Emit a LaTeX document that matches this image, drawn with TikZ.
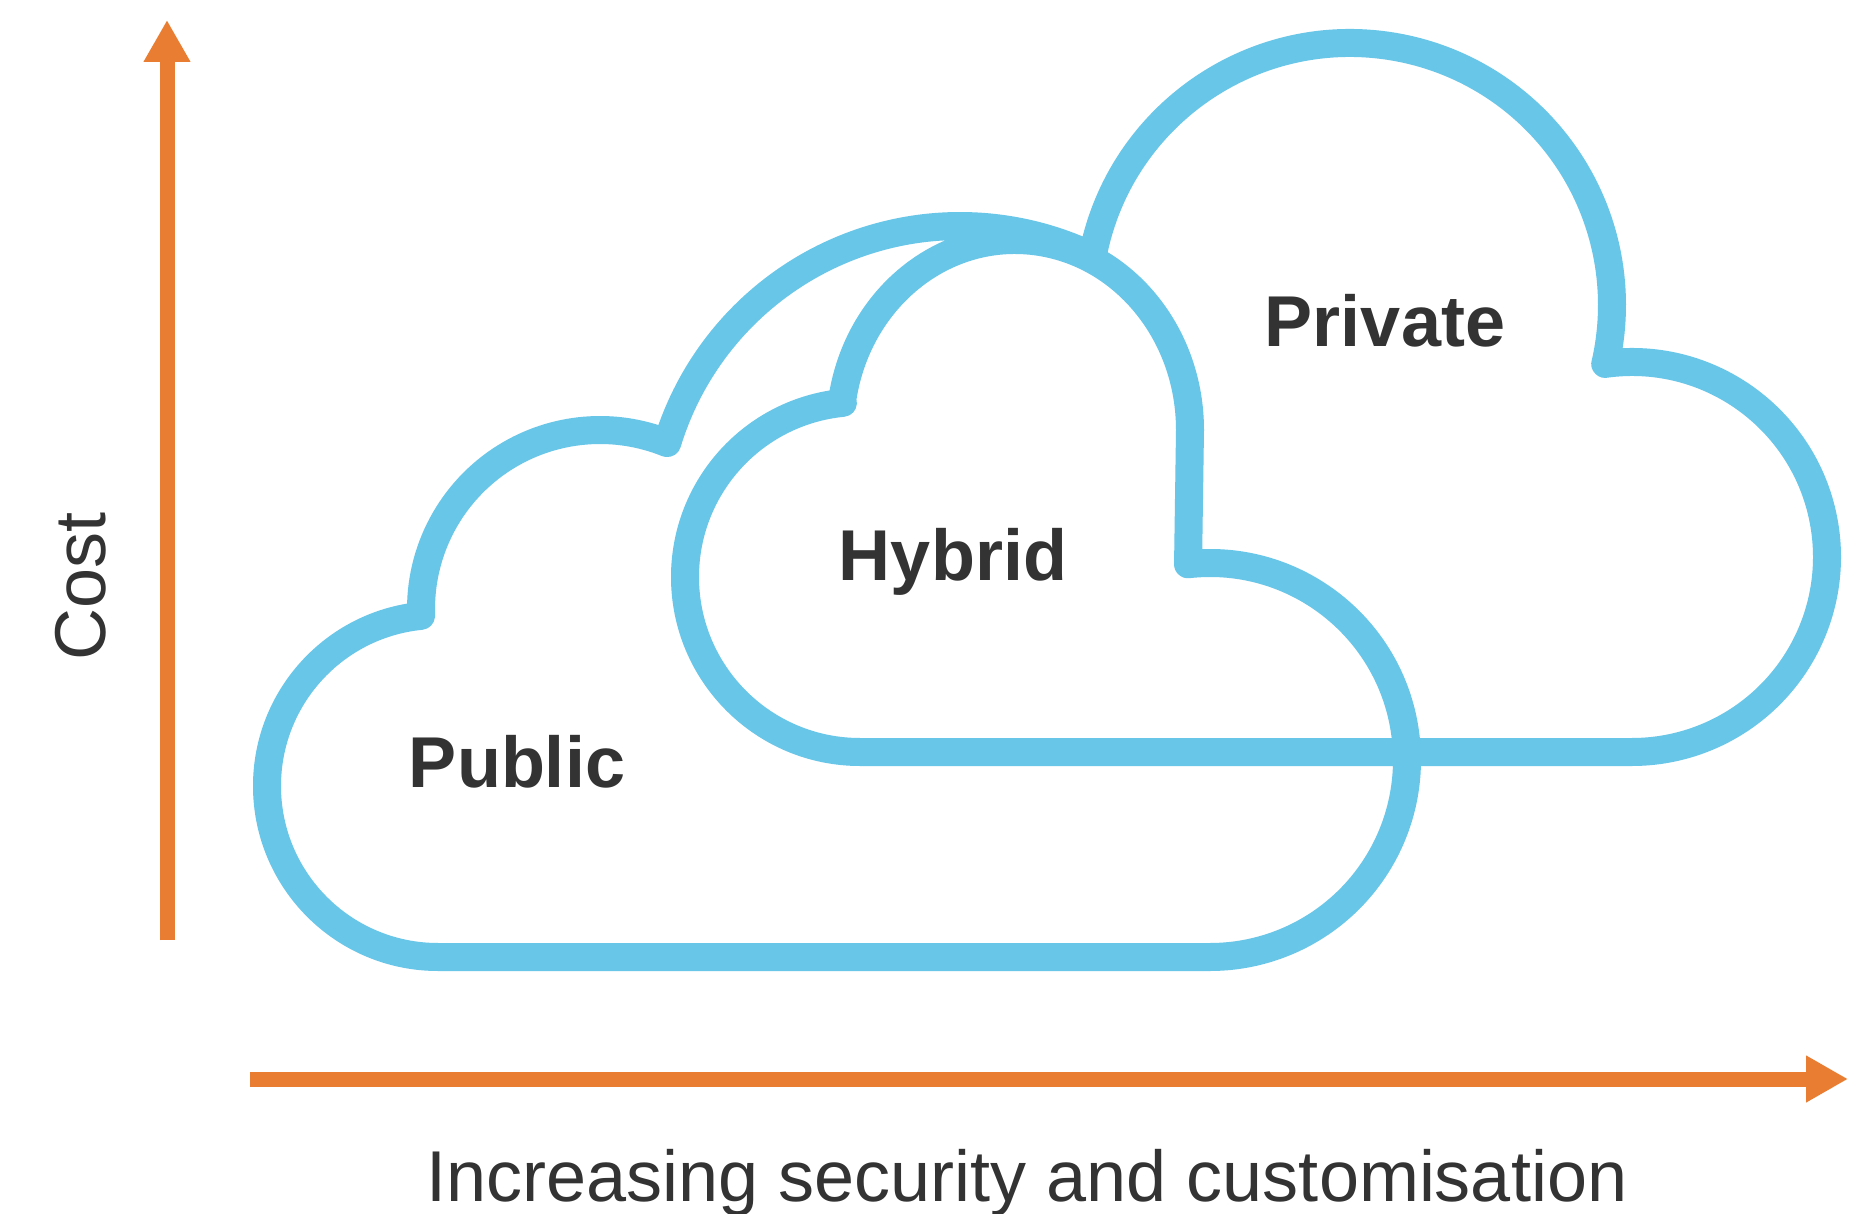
\documentclass[tikz,border=0pt]{standalone}
\usepackage{fontspec}
\setmainfont{Liberation Sans}
\usetikzlibrary{arrows.meta,calc}
\definecolor{cloudblue}{RGB}{104,198,232}
\definecolor{axisorange}{RGB}{233,125,50}
\definecolor{labelgray}{RGB}{51,51,51}
\begin{document}
\begin{tikzpicture}[x=0.5pt,y=0.5pt,
  cloudline/.style={draw=cloudblue,line width=14pt,line join=round},
  axisarrow/.style={draw=axisorange,line width=7.5pt,-{Triangle[length=21pt,width=22pt]}},
  cloudlabel/.style={font=\fontsize{36}{40}\selectfont\bfseries,text=labelgray,inner sep=0pt,anchor=base},
  axislabel/.style={font=\fontsize{36}{40}\selectfont,text=labelgray,inner sep=0pt,anchor=base}]
\useasboundingbox[fill=white] (0,0) rectangle (1865,-1214);

% lobe centres
\coordinate (cL1) at (438,-786);
\coordinate (cM1) at (600,-609);
\coordinate (cA)  at (960,-532);
\coordinate (cT3) at (1350,-305);
\coordinate (cR3) at (1632,-557);
\coordinate (cL2) at (860,-577);
\coordinate (cB)  at (1015,-430);
\coordinate (cR1) at (1210,-760);

% the three overlapping clouds (one continuous outline)
\draw[cloudline]
 ($(cL1)+(270:171)$) arc[start angle=270,end angle=95.7,radius=171]
 -- ($(cM1)+(181.9:179)$) arc[start angle=181.9,end angle=68,radius=179]
 -- ($(cA)+(163.1:306)$) arc[start angle=163.1,end angle=64.4,radius=306]
 -- ($(cT3)+(169.5:262)$) arc[start angle=169.5,end angle=-13.0,radius=262]
 -- ($(cR3)+(97.9:195)$) arc[start angle=97.9,end angle=-90,radius=195]
 -- ($(cL2)+(270:175)$) arc[start angle=270,end angle=95.6,radius=175]
 -- ($(cB)+(171.7:175 and 190)$) arc[start angle=171.7,end angle=0,x radius=175,y radius=190]
 -- ($(cR1)+(96.4:197)$) arc[start angle=96.4,end angle=-90,radius=197]
 -- cycle;

% labels in clouds
\node[cloudlabel] (public)  at (517,-787) {Public};
\node[cloudlabel] (hybrid)  at (953,-580) {Hybrid};
\node[cloudlabel] (private) at (1385,-347) {Private};

% axes
\coordinate (yfoot) at (167,-940);
\coordinate (ytip)  at (167,-20);
\coordinate (xfoot) at (250,-1079);
\coordinate (xtip)  at (1848,-1079);
\draw[axisarrow] (yfoot) -- (ytip);
\draw[axisarrow] (xfoot) -- (xtip);

\node[axislabel,rotate=90] (cost) at (105,-586) {Cost};
\node[axislabel] (xlabel) at (1027,-1201) {Increasing security and customisation};
\end{tikzpicture}
\end{document}
